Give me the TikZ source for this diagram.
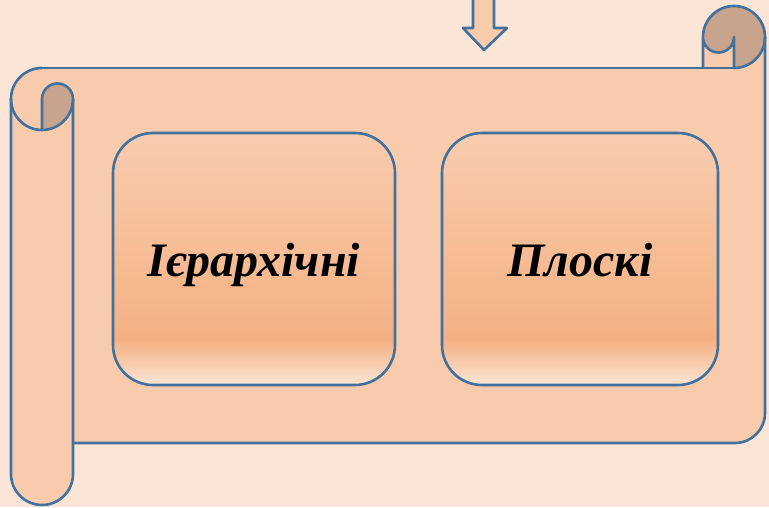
\documentclass[tikz,border=0pt]{standalone}
\usepackage{fontspec}
\setmainfont{Liberation Serif}
\definecolor{pagebg}{RGB}{251,229,214}
\definecolor{scrollfill}{RGB}{248,203,173}
\definecolor{curlfill}{RGB}{201,164,141}
\definecolor{edge}{RGB}{65,113,156}
\definecolor{boxtop}{RGB}{248,204,174}
\definecolor{boxmid}{RGB}{244,177,131}
\definecolor{boxlow}{RGB}{251,229,212}
\pgfdeclareverticalshading{boxshade}{100bp}{%
  color(0bp)=(boxlow); color(25bp)=(boxlow); color(34bp)=(boxmid);
  color(75bp)=(boxtop); color(100bp)=(boxtop)}
\tikzset{
  outline/.style={draw=edge, line width=2.6pt, line join=round},
  card/.style={outline, rounded corners=40pt, shading=boxshade,
    minimum width=282pt, minimum height=252pt, inner sep=0pt,
    text height=36pt, text depth=0pt,
    font=\fontsize{48}{52}\selectfont\bfseries\itshape},
}
\begin{document}
\begin{tikzpicture}[x=1pt,y=1pt]
  \useasboundingbox[fill=pagebg] (0,0) rectangle (769,507);

  % incoming arrow at the top
  \fill[scrollfill] (473,512) -- (494,512) -- (494,479) -- (507,479)
      -- (484,457) -- (463,479) -- (473,479) -- cycle;
  \draw[outline] (473,512) -- (473,479) -- (463,479) -- (484,457)
      -- (507,479) -- (494,479) -- (494,512);

  % scroll body
  \fill[scrollfill] (42,439) -- (703,439) -- (703,470)
      arc[start angle=180, end angle=0, radius=31] -- (765,94)
      arc[start angle=0, end angle=-90, radius=30] -- (73,64) -- (73,33)
      arc[start angle=0, end angle=-180, radius=31] -- (11,408)
      arc[start angle=180, end angle=90, radius=31] -- cycle;

  % rolled-up parts
  \fill[curlfill] (703,470) arc[start angle=180, end angle=-90, radius=31]
      -- (734,470) arc[start angle=0, end angle=-180, radius=15.5] -- cycle;
  \fill[curlfill] (42,408) arc[start angle=180, end angle=0, radius=15.5]
      arc[start angle=0, end angle=-90, radius=31] -- cycle;

  % scroll outlines
  \draw[outline] (42,439) -- (734,439);
  \draw[outline] (703,439) -- (703,470)
      arc[start angle=180, end angle=-90, radius=31] -- (734,470)
      arc[start angle=0, end angle=-180, radius=15.5];
  \draw[outline] (765,470) -- (765,94)
      arc[start angle=0, end angle=-90, radius=30] -- (73,64);
  \draw[outline] (42,439) arc[start angle=90, end angle=360, radius=31];
  \draw[outline] (11,408) -- (11,33)
      arc[start angle=180, end angle=360, radius=31] -- (73,408)
      arc[start angle=0, end angle=180, radius=15.5] -- (42,377);

  % the two kinds
  \node[card] (hier) at (254,248) {Ієрархічні};
  \node[card, minimum width=276pt] (flat) at (580,248) {Плоскі};
\end{tikzpicture}
\end{document}
